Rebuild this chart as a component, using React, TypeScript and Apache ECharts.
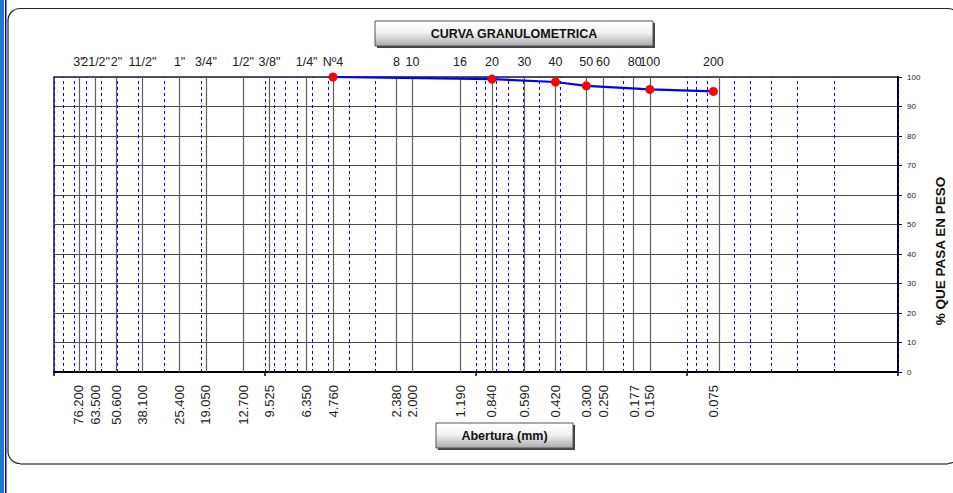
import React, { useEffect, useRef } from "react";
import * as echarts from "echarts";

// Sieve openings (mm) and their names
const SIEVE_MM = [76.2, 63.5, 50.6, 38.1, 25.4, 19.05, 12.7, 9.525, 6.35, 4.76, 2.38, 2.0, 1.19, 0.84, 0.59, 0.42, 0.3, 0.25, 0.177, 0.15, 0.075];
const SIEVE_NAMES = ['3"', '21/2"', '2"', '11/2"', '1"', '3/4"', '1/2"', '3/8"', '1/4"', "Nº4", "8", "10", "16", "20", "30", "40", "50", "60", "80", "100", "200"];
const OPENING_LABELS = ["76.200", "63.500", "50.600", "38.100", "25.400", "19.050", "12.700", "9.525", "6.350", "4.760", "2.380", "2.000", "1.190", "0.840", "0.590", "0.420", "0.300", "0.250", "0.177", "0.150", "0.075"];

// Grain-size curve
const CURVE_MM = [4.76, 0.84, 0.42, 0.3, 0.15, 0.075];
const CURVE_PASSING = [100, 99.3, 98.3, 97.0, 95.8, 95.1];

// Log-scale minor grid (Excel style)
const GRID_DECADES = [10, 1, 0.1, 0.01];
const GRID_STEPS = [1, 2, 3, 4, 5, 6, 7, 8, 9];

const TITLE = "CURVA GRANULOMETRICA";
const X_TITLE = "Abertura (mm)";
const Y_TITLE = "% QUE PASA EN PESO";

const FONT = "'Liberation Sans', Arial, sans-serif";

export default function App() {
  const ref = useRef<HTMLDivElement>(null);

  useEffect(() => {
    if (!ref.current) return;
    const chart = echarts.init(ref.current, null, { renderer: "svg" });

    const minorGrid: number[] = [100];
    GRID_DECADES.forEach((d) => GRID_STEPS.forEach((s) => minorGrid.push(+(d * s).toPrecision(6))));

    const gradient = () =>
      new echarts.graphic.LinearGradient(0, 0, 0, 1, [
        { offset: 0, color: "#ffffff" },
        { offset: 0.45, color: "#f4f4f4" },
        { offset: 1, color: "#a9a9a9" },
      ]);

    const option: any = {
      animation: false,
      backgroundColor: "#ffffff",
      grid: {
        left: 54,
        right: 55,
        top: 77,
        bottom: 121,
        show: true,
        borderColor: "#1a1a3a",
        borderWidth: 1.5,
        backgroundColor: "transparent",
      },
      xAxis: {
        type: "log",
        logBase: 10,
        min: 0.01,
        max: 100,
        inverse: true,
        axisLine: { show: true, lineStyle: { color: "#000", width: 2 } },
        axisTick: { show: true, length: 4, inside: false, lineStyle: { color: "#000", width: 1.5 } },
        axisLabel: { show: false },
        splitLine: { show: false },
        minorTick: { show: false },
      },
      yAxis: {
        type: "value",
        position: "right",
        min: 0,
        max: 100,
        interval: 10,
        axisLine: { show: true, lineStyle: { color: "#000", width: 2 } },
        axisTick: { show: true, length: 4, lineStyle: { color: "#000" } },
        axisLabel: { show: true, fontSize: 8, color: "#222", margin: 9, fontFamily: FONT },
        splitLine: { show: true, lineStyle: { color: "#4a4a4a", width: 1 } },
      },
      graphic: [
        // left edge blue bars
        { type: "rect", shape: { x: 0, y: 0, width: 4, height: 493 }, style: { fill: "#1f7ad0" }, silent: true },
        { type: "rect", shape: { x: 5, y: 0, width: 1.5, height: 493 }, style: { fill: "#0000e0" }, silent: true },
        // outer rounded frame
        {
          type: "rect",
          shape: { x: 8, y: 8.5, width: 952, height: 455, r: 12 },
          style: { fill: "none", stroke: "#222", lineWidth: 1.2 },
          silent: true,
          z: -10,
        },
        { type: "line", shape: { x1: 20, y1: 464, x2: 948, y2: 464 }, style: { stroke: "#808080", lineWidth: 2 }, silent: true },
        // title box
        { type: "rect", shape: { x: 377, y: 23, width: 278, height: 25 }, style: { fill: "#444" }, silent: true },
        {
          type: "rect",
          shape: { x: 375, y: 21, width: 278, height: 25 },
          style: { fill: gradient(), stroke: "#555", lineWidth: 1 },
          silent: true,
        },
        {
          type: "text",
          x: 514,
          y: 33.5,
          style: { text: TITLE, align: "center", verticalAlign: "middle", fontSize: 12.5, fontWeight: "bold", fontFamily: FONT, fill: "#111" },
          silent: true,
        },
        // x axis title box
        { type: "rect", shape: { x: 438, y: 425, width: 137, height: 25 }, style: { fill: "#444" }, silent: true },
        {
          type: "rect",
          shape: { x: 436, y: 423, width: 137, height: 25 },
          style: { fill: gradient(), stroke: "#555", lineWidth: 1 },
          silent: true,
        },
        {
          type: "text",
          x: 504.5,
          y: 435.5,
          style: { text: X_TITLE, align: "center", verticalAlign: "middle", fontSize: 12.5, fontWeight: "bold", fontFamily: FONT, fill: "#111" },
          silent: true,
        },
        // y axis title
        {
          type: "text",
          x: 940,
          y: 251,
          rotation: Math.PI / 2,
          style: { text: Y_TITLE, align: "center", verticalAlign: "middle", fontSize: 13.5, fontWeight: "bold", fontFamily: FONT, fill: "#111" },
          silent: true,
        },
      ],
      series: [
        {
          type: "line",
          name: "minorGrid",
          data: [],
          silent: true,
          markLine: {
            silent: true,
            symbol: ["none", "none"],
            label: { show: false },
            lineStyle: { color: "#0000ff", type: [3, 3], width: 1 },
            data: minorGrid.map((v) => ({ xAxis: v })),
          },
          z: 1,
        },
        {
          type: "line",
          name: "sieves",
          data: [],
          silent: true,
          markLine: {
            silent: true,
            symbol: ["none", "none"],
            label: { show: false },
            lineStyle: { color: "#606060", type: "solid", width: 1.2 },
            data: SIEVE_MM.map((v) => ({ xAxis: v })),
          },
          z: 2,
        },
        {
          type: "custom",
          name: "sieveNames",
          clip: false,
          silent: true,
          data: SIEVE_MM.map((v) => [v, 100]),
          renderItem: (params: any, api: any) => {
            const p = api.coord([api.value(0), api.value(1)]);
            return {
              type: "text",
              x: p[0],
              y: p[1] - 15,
              style: {
                text: SIEVE_NAMES[params.dataIndex],
                align: "center",
                verticalAlign: "middle",
                fontSize: 12.5,
                fontFamily: FONT,
                fill: "#222",
              },
            };
          },
          z: 5,
        },
        {
          type: "custom",
          name: "openings",
          clip: false,
          silent: true,
          data: SIEVE_MM.map((v) => [v, 0]),
          renderItem: (params: any, api: any) => {
            const p = api.coord([api.value(0), api.value(1)]);
            return {
              type: "text",
              x: p[0],
              y: p[1] + 13,
              rotation: Math.PI / 2,
              style: {
                text: OPENING_LABELS[params.dataIndex],
                align: "right",
                verticalAlign: "middle",
                fontSize: 13,
                fontFamily: FONT,
                fill: "#222",
              },
            };
          },
          z: 5,
        },
        {
          type: "line",
          name: "curva",
          data: CURVE_MM.map((v, i) => [v, CURVE_PASSING[i]]),
          symbol: "circle",
          symbolSize: 9,
          lineStyle: { color: "#0000ff", width: 2.2 },
          itemStyle: { color: "#ff0000", borderWidth: 0 },
          clip: false,
          z: 10,
        },
      ],
    };

    chart.setOption(option);
    return () => chart.dispose();
  }, []);

  return (
    <div
      ref={ref}
      style={{ position: "fixed", left: 0, top: 0, width: 953, height: 493, background: "#fff" }}
    />
  );
}
